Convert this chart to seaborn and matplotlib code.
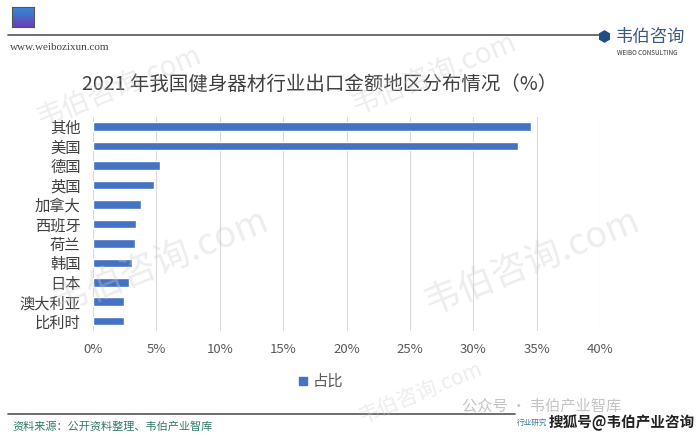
import numpy as np
import pandas as pd
import matplotlib
matplotlib.use("Agg")
import matplotlib.pyplot as plt
import seaborn as sns
from matplotlib.lines import Line2D

# 数据
regions = ['其他', '美国', '德国', '英国', '加拿大', '西班牙', '荷兰', '韩国', '日本', '澳大利亚', '比利时']
share = [34.6, 33.5, 5.3, 4.8, 3.8, 3.4, 3.3, 3.1, 2.8, 2.4, 2.4]
xticks = [0, 5, 10, 15, 20, 25, 30, 35, 40]

df = pd.DataFrame({'地区': regions, '占比': share})

sns.set_theme(style="white")
plt.rcParams['font.family'] = ['Noto Sans CJK SC', 'DejaVu Sans']

fig = plt.figure(figsize=(7, 4.36), dpi=100)
fig.patch.set_facecolor('white')

ax = fig.add_axes([0.133, 0.241, 0.724, 0.491])
sns.barplot(data=df, y='地区', x='占比', orient='h', color='#4472C4',
            width=0.44, ax=ax, saturation=1)
ax.set_xlim(0, 40)
ax.set_ylim(10.5, -0.5)
ax.set_xticks(xticks)
ax.set_xticklabels([f"{t}%" for t in xticks], color='#595959', fontsize=9.5)
ax.tick_params(axis='y', labelsize=11, colors='#404040', length=0, pad=9)
ax.tick_params(axis='x', length=0, pad=9)
ax.set_xlabel('')
ax.set_ylabel('')
ax.grid(axis='x', color='#d9d9d9', linewidth=0.8)
ax.set_axisbelow(True)
for s in ax.spines.values():
    s.set_visible(False)

handle = Line2D([], [], marker='s', color='#4472C4', linestyle='none', markersize=6)
fig.legend([handle], ['占比'], loc='center', bbox_to_anchor=(0.455, 0.125),
           frameon=False, fontsize=11, handletextpad=0.0, handlelength=1.2,
           labelcolor='#595959')

# 标题
fig.text(0.456, 0.807, '2021 年我国健身器材行业出口金额地区分布情况（%）',
         ha='center', va='center', fontsize=14, color='#404040')

# 页眉
sq = fig.add_axes([12/700, 1-27/436, 22/700, 20/436])
grad = np.linspace(0, 1, 50).reshape(-1, 1)
sq.imshow(grad, aspect='auto', cmap=matplotlib.colors.LinearSegmentedColormap.from_list('g', ['#2f8fd8', '#6a3fb5']))
sq.set_xticks([]); sq.set_yticks([])
for s in sq.spines.values():
    s.set_color('#555555'); s.set_linewidth(0.8)

fig.add_artist(Line2D([8/700, 600/700], [1-35/436, 1-35/436], color='#555555', linewidth=1.2))
fig.add_artist(Line2D([604/700], [1-36/436], marker='h', color='#1f4f8a', markersize=8))
fig.text(616/700, 1-37/436, '韦伯咨询', fontsize=12.5, color='#3c5a80', va='center', ha='left')
fig.text(617/700, 1-53/436, 'WEIBO CONSULTING', fontsize=4.5, color='#333333', va='center', ha='left')
fig.text(10/700, 1-48/436, 'www.weibozixun.com', fontsize=8, color='#444444',
         family='Liberation Serif', va='center', ha='left')

# 页脚
fig.add_artist(Line2D([8/700, 515/700], [1-414/436, 1-414/436], color='#555555', linewidth=1.2))
fig.text(12/700, 1-427/436, '资料来源：公开资料整理、韦伯产业智库', fontsize=8, color='#2f7a6a',
         va='center', ha='left')
fig.text(462/700, 1-406/436, '公众号 · 韦伯产业智库', fontsize=11, color='#c4c4c4',
         va='center', ha='left')
fig.text(517/700, 1-423/436, '行业研究', fontsize=5.5, color='#3a7fa0', va='center', ha='left')
fig.text(549/700, 1-423/436, '搜狐号@韦伯产业咨询', fontsize=10.5, color='#222222',
         va='center', ha='left', fontweight='bold')

# 水印
for (x, y, fs) in [(0.17, 0.80, 20), (0.62, 0.83, 20), (0.23, 0.40, 26), (0.76, 0.40, 26), (0.60, 0.10, 15)]:
    fig.text(x, y, '韦伯咨询.com', fontsize=fs, color='#cccccc', alpha=0.35,
             rotation=22, ha='center', va='center')

fig.savefig('out.png', dpi=100)
